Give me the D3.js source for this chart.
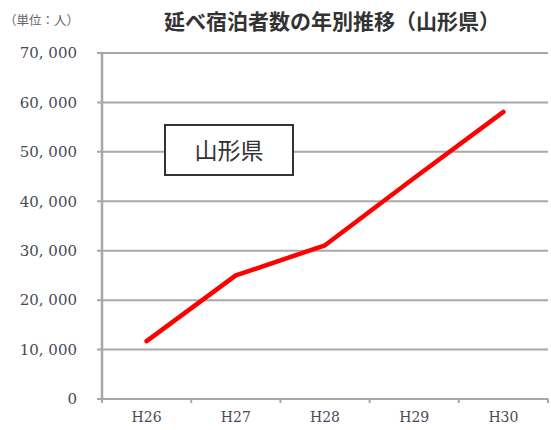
<!DOCTYPE html>
<html><head><meta charset="utf-8">
<script src="https://cdn.jsdelivr.net/npm/d3@7"></script>
<style>body{margin:0;background:#fff}</style>
</head><body>
<script>
const categories = ["H26","H27","H28","H29","H30"];
const values = [11700, 25000, 31100, 44700, 58100];
const yTicks = [0,10000,20000,30000,40000,50000,60000,70000];
const yTickLabels = ["0","10, 000","20, 000","30, 000","40, 000","50, 000","60, 000","70, 000"];
const title = "延べ宿泊者数の年別推移（山形県）";
const unitLabel = "（単位：人）";
const boxLabel = "山形県";

const W = 551, H = 430;
const m = {left:102, right:3, top:53, bottom:31};
const svg = d3.select("body").append("svg").attr("width",W).attr("height",H);
const x = d3.scaleBand().domain(categories).range([m.left, W-m.right]);
const y = d3.scaleLinear().domain([0,70000]).range([H-m.bottom, m.top]);
const grey = "#a8a8a8";
const serif = "'DejaVu Serif',serif";

// gridlines
svg.append("g").selectAll("line").data(yTicks).join("line")
  .attr("x1", m.left-5).attr("x2", W-m.right)
  .attr("y1", d=>y(d)).attr("y2", d=>y(d))
  .attr("stroke", grey).attr("stroke-width", 2);

// y axis line
svg.append("line").attr("x1",m.left).attr("x2",m.left)
  .attr("y1",y(70000)).attr("y2",y(0)).attr("stroke",grey).attr("stroke-width",2.5);

// x ticks
const bounds = categories.map(c=>x(c)).concat([x(categories[categories.length-1])+x.bandwidth()]);
svg.append("g").selectAll("line").data(bounds).join("line")
  .attr("x1",d=>d).attr("x2",d=>d).attr("y1",y(0)).attr("y2",y(0)+4)
  .attr("stroke",grey).attr("stroke-width",2);

// y labels
svg.append("g").selectAll("text").data(yTicks).join("text")
  .attr("x", 77).attr("y", d=>y(d)).attr("dy","0.35em")
  .attr("text-anchor","end").attr("font-family",serif).attr("font-size",15)
  .attr("fill","#4a4a55")
  .text((d,i)=>yTickLabels[i]);

// x labels
svg.append("g").selectAll("text").data(categories).join("text")
  .attr("x", d=>x(d)+x.bandwidth()/2).attr("y", 417).attr("dy","0.35em")
  .attr("text-anchor","middle").attr("font-family",serif).attr("font-size",14)
  .attr("fill","#4a4a55")
  .text(d=>d);

// line
svg.append("path").datum(values)
  .attr("d", d3.line().x((d,i)=>x(categories[i])+x.bandwidth()/2).y(d=>y(d)))
  .attr("fill","none").attr("stroke","#ff0000").attr("stroke-width",4.5)
  .attr("stroke-linejoin","round").attr("stroke-linecap","round");

// box
svg.append("rect").attr("x",165).attr("y",125).attr("width",128).attr("height",50)
  .attr("fill","#fff").attr("stroke","#333").attr("stroke-width",2);
svg.append("text").attr("x",229).attr("y",151).attr("dy","0.35em")
  .attr("text-anchor","middle").attr("font-family","'Noto Sans CJK JP',sans-serif")
  .attr("font-size",23).attr("fill","#333").text(boxLabel);

// title
svg.append("text").attr("x",332).attr("y",22).attr("dy","0.35em")
  .attr("text-anchor","middle").attr("font-family","'Noto Sans CJK JP',sans-serif")
  .attr("font-weight","bold").attr("font-size",21).attr("fill","#333").text(title);
svg.append("text").attr("x",4).attr("y",21).attr("dy","0.35em")
  .attr("font-family","'Noto Sans CJK JP',serif")
  .attr("font-size",12.5).attr("fill","#666").text(unitLabel);
</script>
</body></html>
